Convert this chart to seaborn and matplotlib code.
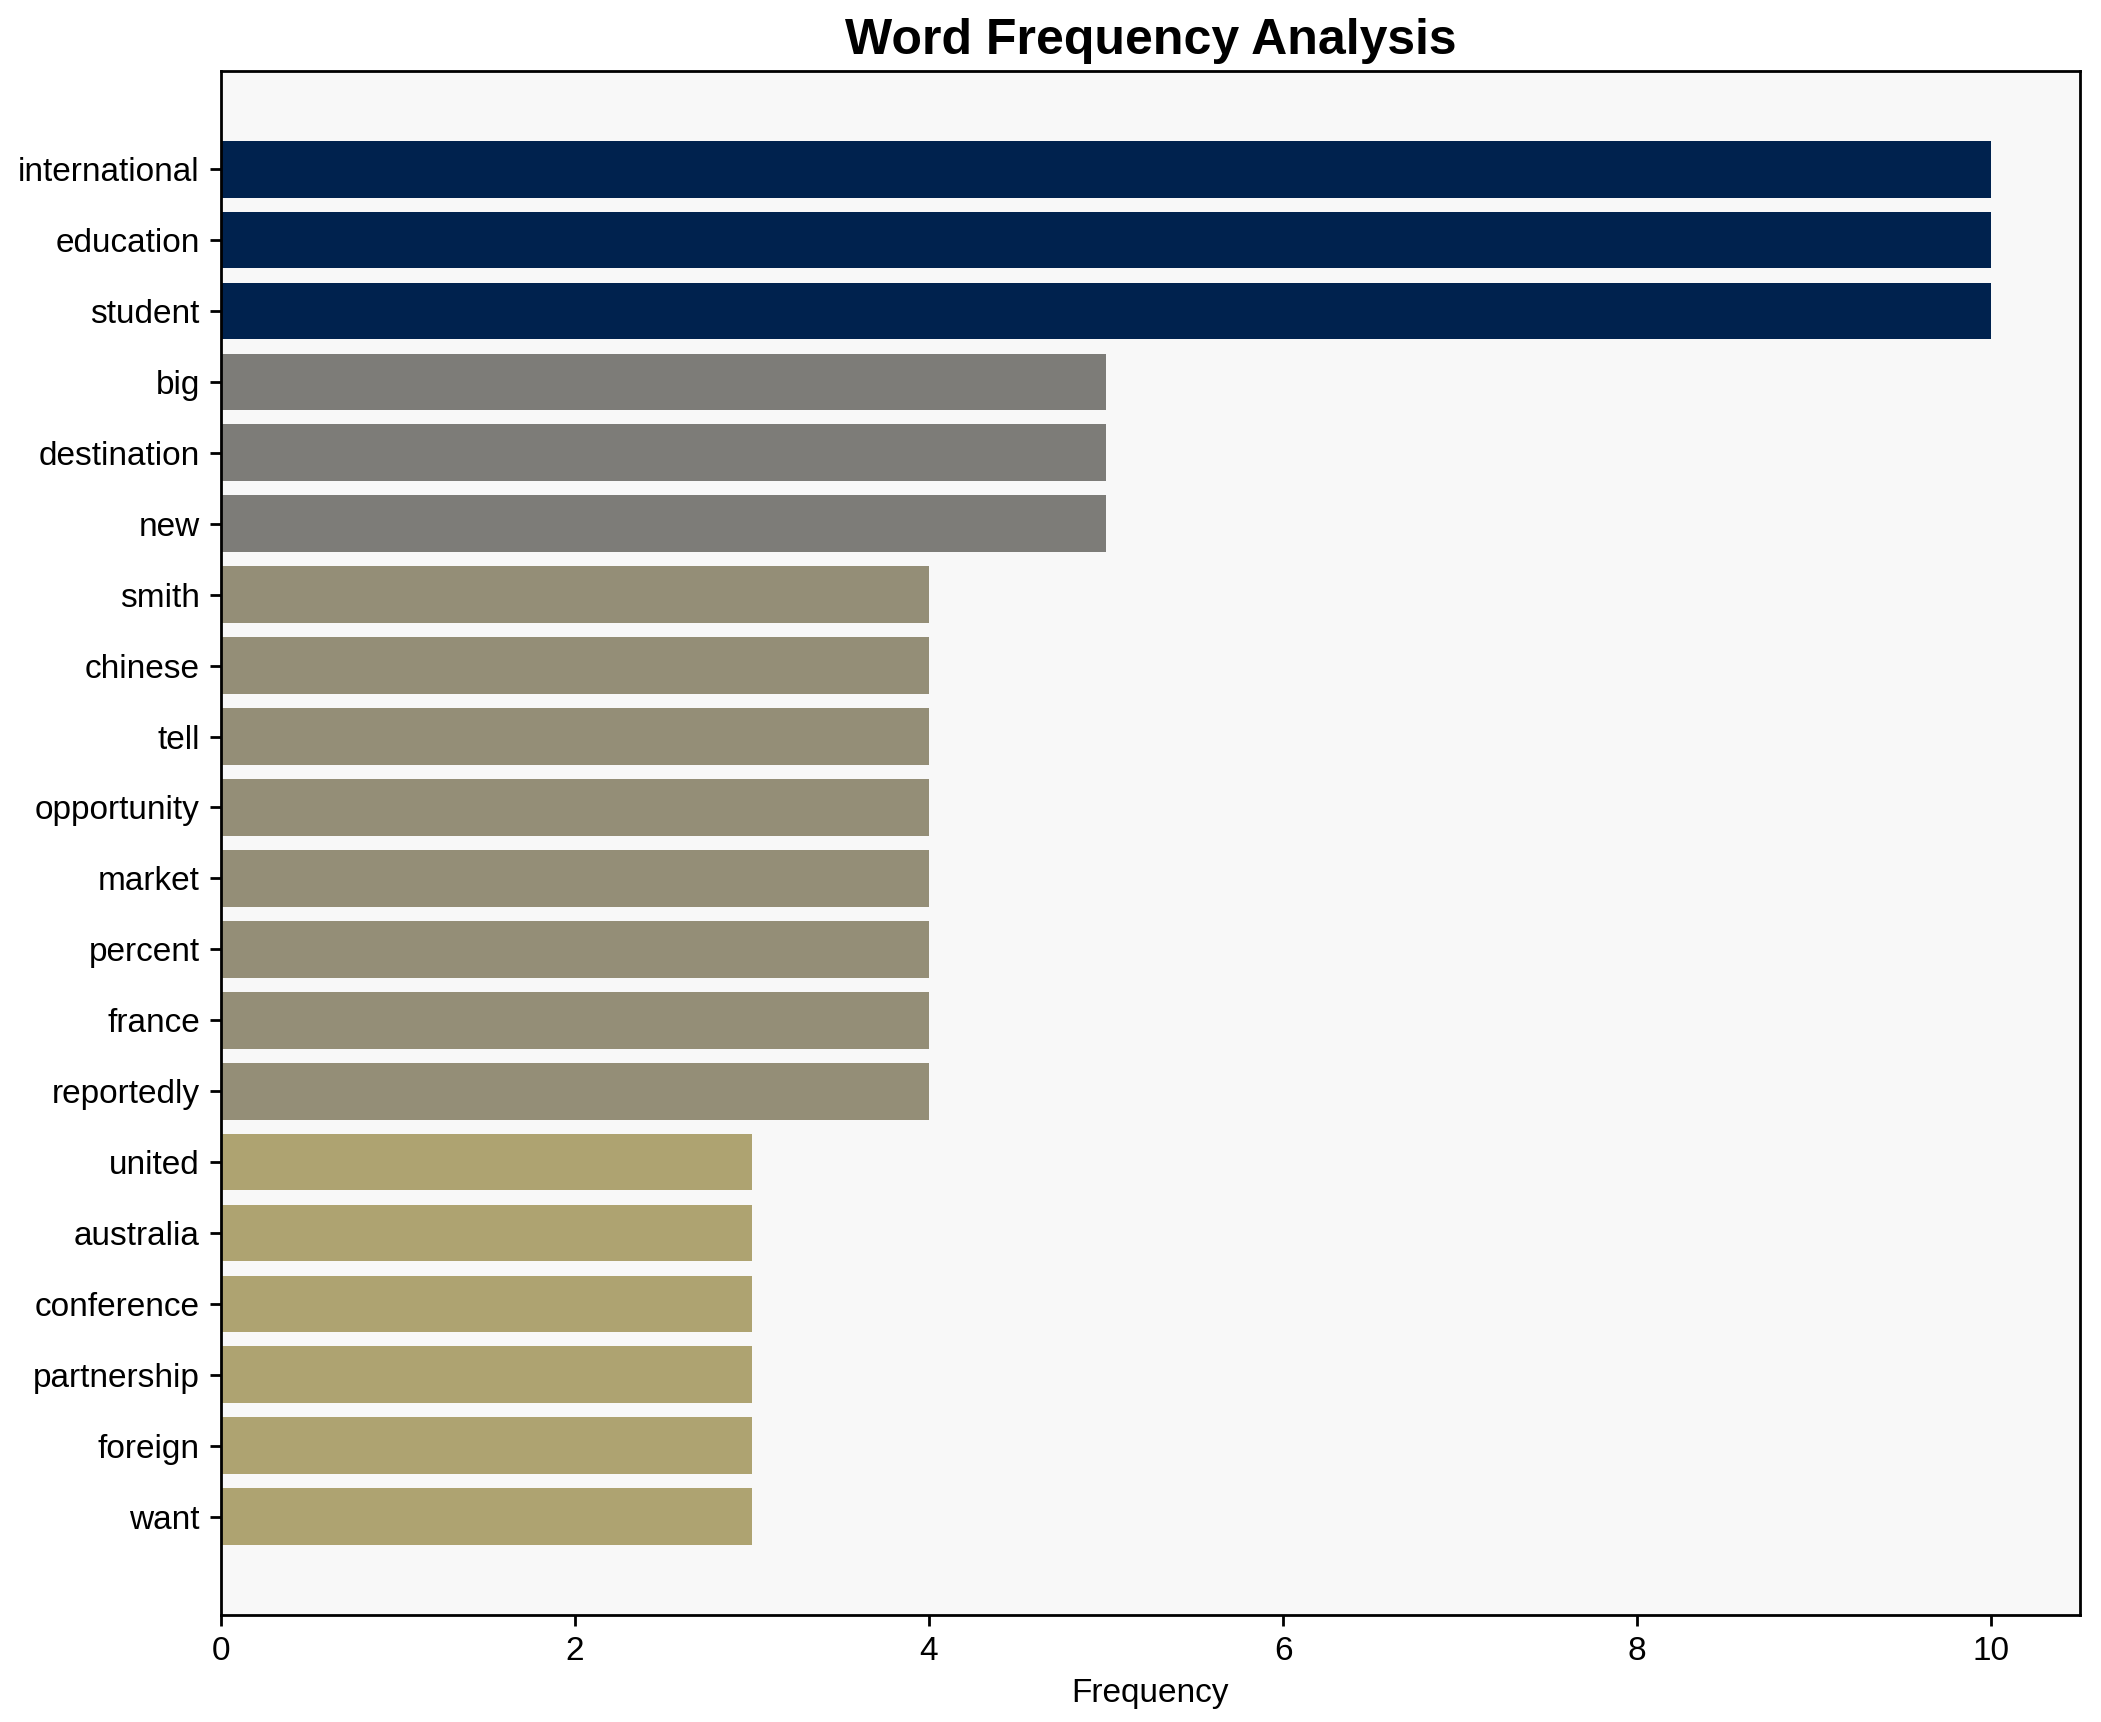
import numpy as np
import matplotlib
matplotlib.use("Agg")
import matplotlib.pyplot as plt
import pandas as pd
import seaborn as sns

# word counts
words = ["international", "education", "student", "big", "destination", "new",
         "smith", "chinese", "tell", "opportunity", "market", "percent", "france",
         "reportedly", "united", "australia", "conference", "partnership",
         "foreign", "want"]
freqs = [10, 10, 10, 5, 5, 5, 4, 4, 4, 4, 4, 4, 4, 4, 3, 3, 3, 3, 3, 3]

sns.set_style("white")
plt.rcParams['font.family'] = ['Liberation Sans', 'DejaVu Sans']
plt.rcParams['text.color'] = 'black'
plt.rcParams['axes.labelcolor'] = 'black'
plt.rcParams['xtick.color'] = 'black'
plt.rcParams['ytick.color'] = 'black'

df = pd.DataFrame({'word': words, 'freq': freqs})

cmap = plt.get_cmap('cividis')
mx = max(freqs)
colors = [cmap(1 - f / mx) for f in freqs]

fig, ax = plt.subplots(figsize=(10.505, 8.61), dpi=200)
fig.subplots_adjust(left=0.105, right=0.990, top=0.959, bottom=0.062)
ax.set_facecolor('#f8f8f8')

sns.barplot(data=df, x='freq', y='word', hue='word', palette=colors,
            legend=False, width=0.8, saturation=1, linewidth=0, ax=ax)

n = len(words)
pad = 0.05 * (n - 1 + 0.8)
ax.set_ylim(n - 1 + 0.4 + pad, -0.4 - pad)
ax.set_xlim(0, mx * 1.05)

for s in ax.spines.values():
    s.set_visible(True)
    s.set_color('black')
    s.set_linewidth(1.0)

ax.tick_params(axis='both', labelsize=12, length=4, width=1, color='black',
               labelcolor='black', left=True, bottom=True)
ax.set_ylabel('')
ax.set_xlabel('Frequency', fontsize=12, color='black')
ax.set_title('Word Frequency Analysis', fontsize=18, fontweight='bold',
             color='black')

fig.savefig('out.png', dpi=200)
